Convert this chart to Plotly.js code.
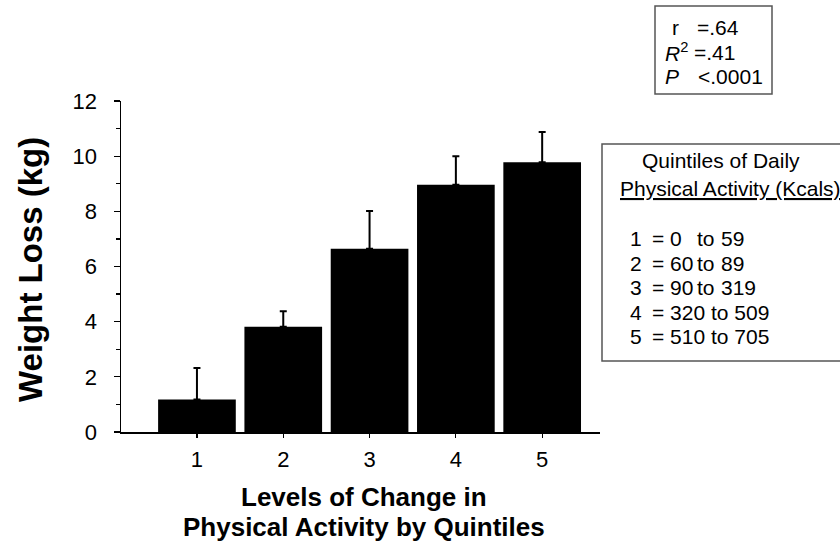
<!DOCTYPE html>
<html>
<head>
<meta charset="utf-8">
<script src="https://cdn.plot.ly/plotly-3.0.1.min.js"></script>
<style>html,body{margin:0;padding:0;background:#fff;}#chart{width:840px;height:551px;}</style>
</head>
<body>
<div id="chart"></div>
<script>
// ---- data ----
const categories = [1, 2, 3, 4, 5];
const categoryLabels = ['1', '2', '3', '4', '5'];
const weightLoss = [1.18, 3.82, 6.64, 8.96, 9.78];
const errorUpper = [1.14, 0.56, 1.37, 1.04, 1.10];
const yTickVals = [0, 2, 4, 6, 8, 10, 12];
const quintileIds = ['1', '2', '3', '4', '5'];
const quintileLow = [0, 60, 90, 320, 510];
const quintileHigh = [59, 89, 319, 509, 705];
const statLabels = ['r', '<i>R</i><sup>2</sup>', '<i>P</i>'];
const statValues = ['=.64', '=.41', '<.0001'];
const xTitleLines = ['Levels of Change in', 'Physical Activity by Quintiles'];
const yTitle = 'Weight Loss (kg)';
const legendTitleLines = ['Quintiles of Daily', 'Physical Activity (Kcals)'];

// ---- layout helpers (pixel -> paper) ----
const L = 121, R = 600, T = 101, B = 432;
const px = p => (p - L) / (R - L);
const py = p => (B - p) / (B - T);
const FONT = 'Liberation Sans, Arial, sans-serif';

const trace = {
  type: 'bar',
  x: categories,
  y: weightLoss,
  marker: {color: '#000', line: {color: '#000', width: 0}},
  width: 0.9,
  error_y: {type: 'data', array: errorUpper, arrayminus: categories.map(() => 0),
            symmetric: false, color: '#000', thickness: 2, width: 3.5},
  hoverinfo: 'x+y'
};

const annotations = [];
const shapes = [];

// axis titles
annotations.push({xref: 'paper', yref: 'paper', x: px(30), y: py(270), text: '<b>' + yTitle + '</b>',
  textangle: -90, showarrow: false, font: {family: FONT, size: 33, color: '#000'}, xanchor: 'center', yanchor: 'middle'});
xTitleLines.forEach((t, i) => annotations.push({xref: 'paper', yref: 'paper', x: px(364), y: py(497 + i * 30),
  text: '<b>' + t + '</b>', showarrow: false, font: {family: FONT, size: 26, color: '#000'}, xanchor: 'center', yanchor: 'middle'}));

// stats box
shapes.push({type: 'rect', xref: 'paper', yref: 'paper', x0: px(655), x1: px(772), y0: py(94), y1: py(6),
  line: {color: '#555', width: 1.5}, fillcolor: 'rgba(0,0,0,0)'});
const statLabelX = [672, 665, 665];
const statValueX = [697, 694, 698];
statLabels.forEach((s, i) => {
  annotations.push({xref: 'paper', yref: 'paper', x: px(statLabelX[i] - 2), y: py(27 + i * 25), text: s,
    showarrow: false, xanchor: 'left', yanchor: 'middle', font: {family: FONT, size: 21, color: '#000'}});
  annotations.push({xref: 'paper', yref: 'paper', x: px(statValueX[i] - 2), y: py(27 + i * 25), text: statValues[i],
    showarrow: false, xanchor: 'left', yanchor: 'middle', font: {family: FONT, size: 21, color: '#000'}});
});

// quintile box
shapes.push({type: 'rect', xref: 'paper', yref: 'paper', x0: px(602), x1: px(860), y0: py(361), y1: py(144),
  line: {color: '#555', width: 1.5}, fillcolor: 'rgba(0,0,0,0)'});
annotations.push({xref: 'paper', yref: 'paper', x: px(721), y: py(160), text: legendTitleLines[0],
  showarrow: false, xanchor: 'center', yanchor: 'middle', font: {family: FONT, size: 21, color: '#000'}});
annotations.push({xref: 'paper', yref: 'paper', x: px(730), y: py(188), text: '<u>' + legendTitleLines[1] + '</u>',
  showarrow: false, xanchor: 'center', yanchor: 'middle', font: {family: FONT, size: 21, color: '#000'}});
const rowY = [238, 263, 287, 312, 336];
quintileIds.forEach((q, i) => {
  const f = {family: FONT, size: 21, color: '#000'};
  annotations.push({xref: 'paper', yref: 'paper', x: px(628), y: py(rowY[i]), text: q, showarrow: false, xanchor: 'left', yanchor: 'middle', font: f});
  if (quintileLow[i] < 100) {
    annotations.push({xref: 'paper', yref: 'paper', x: px(650), y: py(rowY[i]), text: '= ' + quintileLow[i], showarrow: false, xanchor: 'left', yanchor: 'middle', font: f});
    annotations.push({xref: 'paper', yref: 'paper', x: px(695), y: py(rowY[i]), text: 'to', showarrow: false, xanchor: 'left', yanchor: 'middle', font: f});
    annotations.push({xref: 'paper', yref: 'paper', x: px(719), y: py(rowY[i]), text: String(quintileHigh[i]), showarrow: false, xanchor: 'left', yanchor: 'middle', font: f});
  } else {
    annotations.push({xref: 'paper', yref: 'paper', x: px(650), y: py(rowY[i]), text: '= ' + quintileLow[i] + ' to ' + quintileHigh[i], showarrow: false, xanchor: 'left', yanchor: 'middle', font: f});
  }
});

const layout = {
  width: 840, height: 551,
  margin: {l: L, r: 840 - R, t: T, b: 551 - B, pad: 0},
  paper_bgcolor: '#fff', plot_bgcolor: '#fff',
  showlegend: false,
  font: {family: FONT, color: '#000'},
  bargap: 0.1,
  xaxis: {range: [0.12, 5.67], tickvals: categories, ticktext: categoryLabels, showline: true, linecolor: '#000', linewidth: 1.5,
    ticks: 'outside', ticklen: 4, tickwidth: 1.2, tickcolor: '#000', showgrid: false, zeroline: false,
    tickfont: {family: FONT, size: 22, color: '#000'}, ticklabelstandoff: 3, fixedrange: true},
  yaxis: {range: [0, 12], tickvals: yTickVals, showline: true, linecolor: '#000', linewidth: 1.5,
    ticks: 'outside', ticklen: 6, tickwidth: 1.2, tickcolor: '#000', showgrid: false, zeroline: false,
    tickfont: {family: FONT, size: 22, color: '#000'}, ticklabelstandoff: 12,
    minor: {dtick: 1, ticks: 'outside', ticklen: 4, tickwidth: 1.2, tickcolor: '#000', showgrid: false}, fixedrange: true},
  annotations: annotations,
  shapes: shapes
};

Plotly.newPlot('chart', [trace], layout, {displayModeBar: false, staticPlot: true});
</script>
</body>
</html>
